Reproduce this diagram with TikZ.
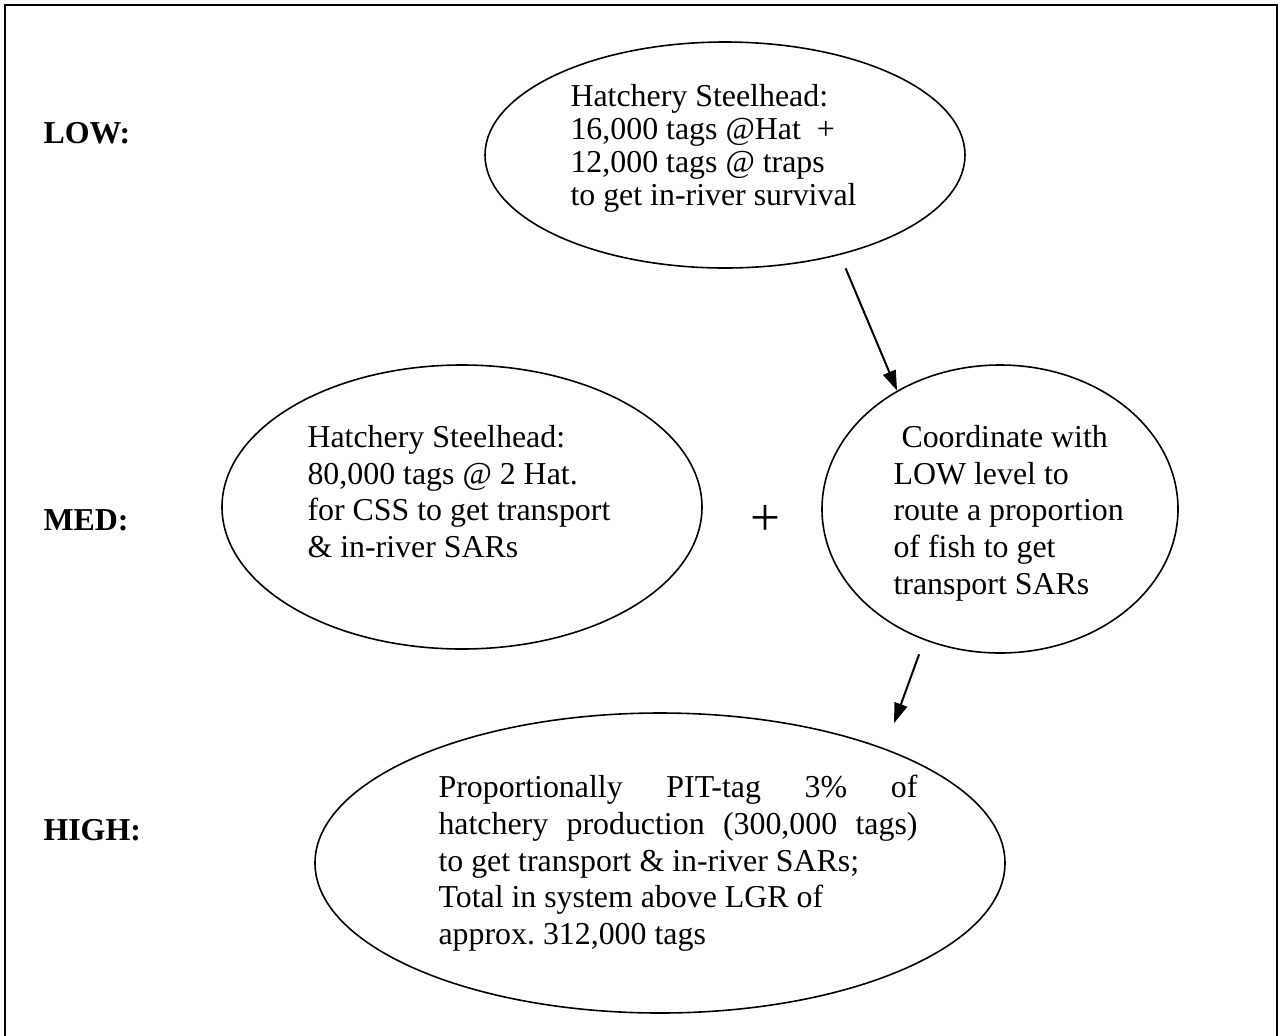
\documentclass[tikz,border=0pt]{standalone}
\usepackage{fontspec}
\setmainfont{Liberation Serif}
\usetikzlibrary{shapes.geometric,arrows.meta}
\def\px{0.37641pt}
\tikzset{
	bubble/.style={
		ellipse, draw, line width=0.6pt, inner sep=0pt,
	},
	words/.style={
		anchor=north west, inner sep=0pt, align=left,
		font=\fontsize{12}{13.8}\selectfont,
	},
	level/.style={
		anchor=base west, inner sep=0pt,
		font=\fontsize{12}{13.8}\selectfont\bfseries,
	},
	flow/.style={
		draw, line width=0.75pt,
		-{Triangle[length=7.5pt,width=5pt]},
	}
}

\begin{document}
\begin{tikzpicture}[x=\px, y=-\px]
	\useasboundingbox (0,0) rectangle (1280,1036);
	\draw[line width=0.75pt] (5,1036) -- (5,5) -- (1277,5) -- (1277,1036);

	\node [level] (lowlbl) at (43,143) {LOW:};
	\node [level] (medlbl) at (43,530) {MED:};
	\node [level] (highlbl) at (43,840) {HIGH:};

	% the four bubbles
	\node [bubble, minimum width=480*\px, minimum height=226*\px] (low) at (725,155) {};
	\node [bubble, minimum width=480*\px, minimum height=284*\px] (css) at (462,507) {};
	\node [bubble, minimum width=356*\px, minimum height=288*\px] (coord) at (1000,509) {};
	\node [bubble, minimum width=690*\px, minimum height=300*\px] (high) at (660,863) {};

	% their texts
	\node [words, font=\fontsize{12}{12.4}\selectfont] (lowtext) at (570,84)
		{Hatchery Steelhead:\\16,000 tags @Hat\ \ +\\12,000 tags @ traps\\to get in-river survival};
	\node [words] (csstext) at (307,425)
		{Hatchery Steelhead:\\80,000 tags @ 2 Hat.\\for CSS to get transport\\\& in-river SARs};
	\node [words] (coordtext) at (893,425)
		{\hspace*{0.25em}Coordinate with\\LOW level to\\route a proportion\\of fish to get\\transport SARs};
	\node [words, text width=479*\px, align=justify] (hightext) at (438,775)
		{Proportionally PIT-tag 3\% of\linebreak hatchery production (300,000 tags)\linebreak to get transport \& in-river SARs;\\Total in system above LGR of\\approx.\ 312,000 tags};
	\node [font=\fontsize{20}{20}\selectfont] (plus) at (765,520) {+};

	\path [flow, shorten <=14.5*\px] (low.-41) -- (coord.131.5);
	\path [flow, shorten <=15*\px, shorten >=27*\px] (coord.-120.6) -- (high.27);
\end{tikzpicture}
\end{document}
